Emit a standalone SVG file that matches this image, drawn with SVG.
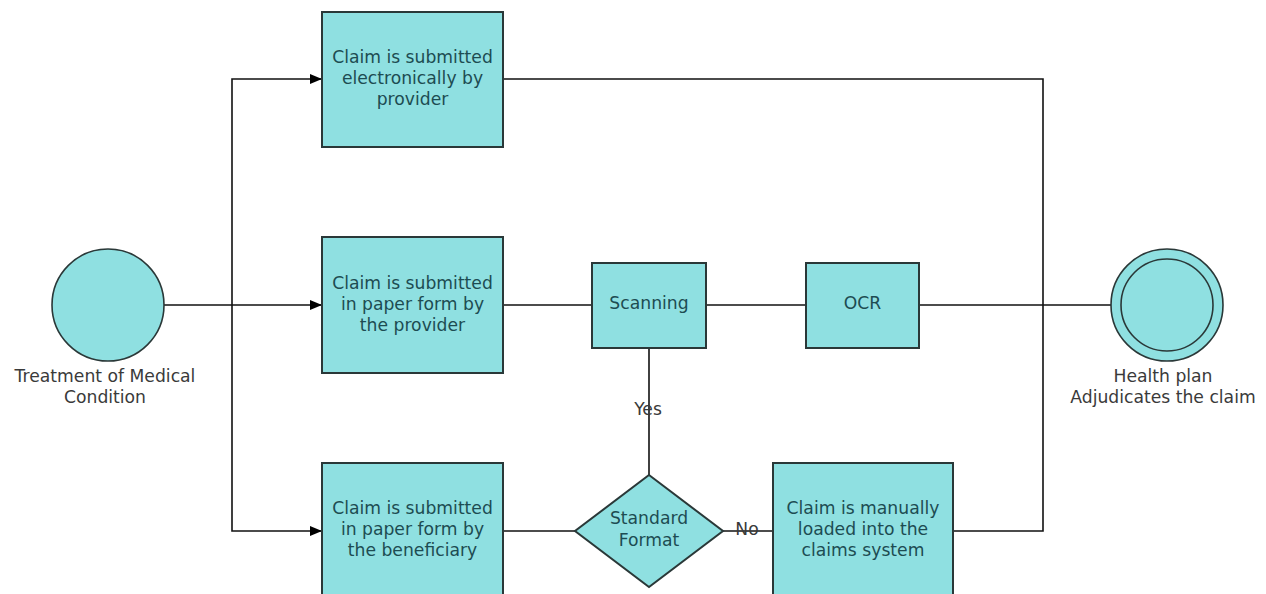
<svg xmlns="http://www.w3.org/2000/svg" width="1266" height="594" viewBox="0 0 1266 594">
<defs>
<style>
.box{fill:#8fe0e1;stroke:#2a3838;stroke-width:2}
.circ{fill:#8fe0e1;stroke:#2a3838;stroke-width:1.6}
.ln{fill:none;stroke:#111;stroke-width:1.6}
.t{font-family:"DejaVu Sans",Verdana,sans-serif;font-size:17.2px;fill:#1d4c52;text-anchor:middle}
.lb{font-family:"DejaVu Sans",Verdana,sans-serif;font-size:17.2px;fill:#3a3a3a;text-anchor:middle}
</style>
<marker id="arr" viewBox="0 0 12 10" refX="12" refY="5" markerWidth="12" markerHeight="10" markerUnits="userSpaceOnUse" orient="auto">
<path d="M0,0 L12,5 L0,10 Z" fill="#000"/>
</marker>
</defs>
<rect width="1266" height="594" fill="#fff"/>
<g id="connectors">
<path class="ln" d="M164,305 H322" marker-end="url(#arr)"/>
<path class="ln" d="M232,305 V79 H322" marker-end="url(#arr)"/>
<path class="ln" d="M232,305 V531 H322" marker-end="url(#arr)"/>
<path class="ln" d="M503,79 H1043 V305"/>
<path class="ln" d="M503,305 H592"/>
<path class="ln" d="M706,305 H806"/>
<path class="ln" d="M919,305 H1111"/>
<path class="ln" d="M649,348 V475"/>
<path class="ln" d="M503,531 H575"/>
<path class="ln" d="M723,531 H773"/>
<path class="ln" d="M953,531 H1043 V305"/>
<text class="lb" x="648" y="415">Yes</text>
<text class="lb" x="747" y="535">No</text>
</g>
<g id="start">
<circle class="circ" cx="108" cy="305" r="56"/>
<text class="lb" x="105" y="382">Treatment of Medical</text>
<text class="lb" x="105" y="403">Condition</text>
</g>
<g id="electronic">
<rect class="box" x="322" y="12" width="181" height="135"/>
<text class="t" x="412.5" y="63">Claim is submitted</text>
<text class="t" x="412.5" y="84">electronically by</text>
<text class="t" x="412.5" y="105">provider</text>
</g>
<g id="paper-provider">
<rect class="box" x="322" y="237" width="181" height="136"/>
<text class="t" x="412.5" y="289">Claim is submitted</text>
<text class="t" x="412.5" y="310">in paper form by</text>
<text class="t" x="412.5" y="331">the provider</text>
</g>
<g id="paper-beneficiary">
<rect class="box" x="322" y="463" width="181" height="137"/>
<text class="t" x="412.5" y="514">Claim is submitted</text>
<text class="t" x="412.5" y="535">in paper form by</text>
<text class="t" x="412.5" y="556">the beneficiary</text>
</g>
<g id="scanning">
<rect class="box" x="592" y="263" width="114" height="85"/>
<text class="t" x="649" y="309">Scanning</text>
</g>
<g id="ocr">
<rect class="box" x="806" y="263" width="113" height="85"/>
<text class="t" x="862.5" y="309">OCR</text>
</g>
<g id="standard-format">
<polygon class="box" points="649,475 723,531 649,587 575,531"/>
<text class="t" x="649" y="524">Standard</text>
<text class="t" x="649" y="546">Format</text>
</g>
<g id="manual">
<rect class="box" x="773" y="463" width="180" height="137"/>
<text class="t" x="863" y="514">Claim is manually</text>
<text class="t" x="863" y="535">loaded into the</text>
<text class="t" x="863" y="556">claims system</text>
</g>
<g id="end">
<circle class="circ" cx="1167" cy="305" r="56"/>
<circle class="circ" cx="1167" cy="305" r="46"/>
<text class="lb" x="1163" y="382">Health plan</text>
<text class="lb" x="1163" y="403">Adjudicates the claim</text>
</g>
</svg>
